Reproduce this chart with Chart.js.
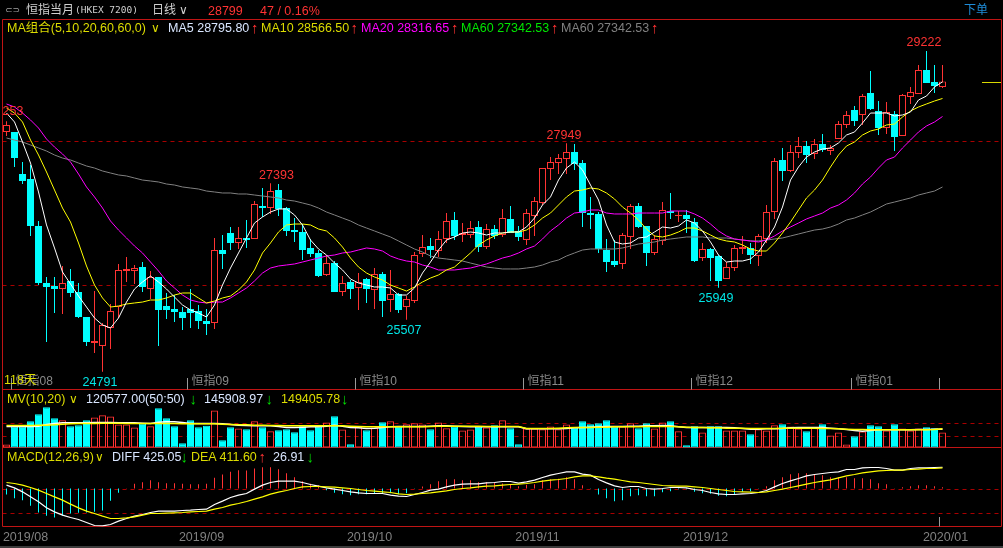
<!DOCTYPE html>
<html>
<head>
<meta charset="utf-8">
<title>恒指当月</title>
<script src="https://cdn.jsdelivr.net/npm/chart.js@4/dist/chart.umd.min.js"></script>
<style>
  html, body { margin: 0; padding: 0; background: #000; width: 1003px; height: 548px; overflow: hidden; }
  #kline { position: absolute; left: 0; top: 0; }
  #labels span { position: absolute; white-space: nowrap; line-height: 16px; font-family: "Liberation Sans", "Noto Sans CJK SC", sans-serif; font-size: 12.5px; }
  #footbar { position: absolute; left: 0; top: 546px; width: 1003px; height: 2px; background: #3c3c3c; }
</style>
</head>
<body>
<canvas id="kline" width="1003" height="548"></canvas>
<div id="labels"></div>
<div id="footbar"></div>
<script>
// 每日K线
const opens = [
  28103,28103,27522,27453,26804,26016,25975,25933,26044,25892,
  25546,25187,25146,25394,25684,26182,26182,26237,25933,26099,
  25698,25657,25615,25657,25629,25491,25463,26472,26707,26569,
  26638,26624,27080,27053,27301,27053,26748,26721,26500,26431,
  26127,26292,25892,26030,25947,26071,25919,26140,25781,25864,
  25684,25767,26417,26527,26458,26624,26887,26679,26679,26790,
  26514,26762,26679,26901,26735,26610,26942,27122,27591,27674,
  27730,27826,27674,26983,26970,26472,26320,26279,26652,27080,
  26804,26431,26597,27011,26942,26956,26859,26362,26486,26389,
  26071,26223,26486,26500,26389,26624,26997,27716,27564,27813,
  27909,27799,27937,27840,28006,28200,28407,28338,28642,28393,
  28158,28352,28048,28586,28628,28960,28794,28725
];
const closes = [
  28200,27743,27426,26804,26016,25961,25933,26016,25878,25546,
  25201,25215,25436,25629,26196,26210,26223,25961,26099,25643,
  25643,25615,25532,25601,25491,25449,26472,26417,26569,26638,
  26610,27108,27053,27287,27039,26735,26721,26472,26417,26112,
  26292,25892,26016,25933,26030,25933,26140,25767,25864,25643,
  25795,26403,26514,26472,26624,26873,26666,26707,26776,26514,
  26762,26666,26914,26707,26652,26983,27149,27605,27688,27743,
  27826,27660,26983,26956,26486,26306,26265,26679,27080,26790,
  26431,26624,27025,26983,26956,26901,26320,26486,26362,26044,
  26237,26500,26514,26403,26666,26997,27702,27564,27826,27909,
  27785,27937,27854,27882,28213,28338,28255,28600,28421,28158,
  28379,28034,28614,28656,28960,28780,28739,28799
];
const highs = [
  28253,28103,27688,27647,26873,26099,26099,26251,26210,26016,
  25546,25905,25463,25726,26279,26375,26265,26306,26182,26099,
  25878,25850,25684,25933,25712,25657,26638,26679,26790,26790,
  26887,27149,27329,27393,27385,27066,26914,26831,26624,26472,
  26403,26320,26112,26057,26154,26085,26223,26168,26196,25878,
  25836,26444,26679,26638,26735,26983,26997,26845,26873,26873,
  26831,26818,27039,27080,26804,27039,27205,27605,27757,27799,
  27949,27937,27716,27205,26997,26624,26610,26707,27108,27122,
  26804,26679,27136,27260,27011,27025,26914,26569,26500,26403,
  26306,26541,26666,26569,26693,27094,27743,27882,27923,28034,
  27978,28006,28075,27923,28255,28393,28462,28628,28946,28531,
  28517,28393,28628,28725,29029,29222,29029,29029
];
const lows = [
  28048,27619,27384,26666,25988,25201,25601,25587,25823,25532,
  25146,25049,24791,25104,25532,26030,26002,25892,25795,25146,
  25518,25477,25366,25394,25380,25297,25380,26210,26472,26486,
  26500,26624,26928,26970,26942,26666,26583,26334,26375,26099,
  26112,25892,25836,25795,25643,25740,25657,25546,25615,25601,
  25507,25740,26375,26361,26375,26569,26610,26583,26638,26444,
  26486,26624,26652,26707,26597,26541,26666,27094,27439,27522,
  27522,27578,26790,26762,26431,26168,26237,26210,26486,26776,
  26251,26403,26541,26901,26859,26707,26306,26320,26044,25949,
  26071,26182,26417,26279,26251,26569,26901,27426,27550,27743,
  27674,27730,27826,27785,28006,28158,28186,28200,28407,28061,
  28075,27840,28048,28490,28628,28780,28642,28711
];

// 均线
const ma5 = [
  28365,28241,27965,27674,27274,26818,26500,26168,26002,25836,
  25684,25532,25436,25394,25532,25753,25933,26030,26112,26030,
  25933,25822,25712,25643,25601,25546,25712,25988,26223,26431,
  26638,26845,26928,26997,27039,27039,26956,26818,26610,26486,
  26403,26292,26196,26071,26016,25988,25961,25961,25947,25850,
  25850,25947,26154,26306,26472,26610,26652,26707,26721,26707,
  26679,26707,26707,26721,26721,26790,26914,27094,27205,27439,
  27605,27688,27578,27370,27163,26818,26583,26555,26569,26638,
  26652,26721,26790,26776,26804,26887,26845,26735,26583,26403,
  26306,26320,26320,26348,26444,26610,26790,27066,27439,27619,
  27757,27826,27868,27882,27951,28061,28103,28227,28365,28365,
  28365,28324,28338,28379,28545,28600,28725,28796
];
const ma10 = [
  28434,28365,28241,27992,27785,27550,27301,27052,26859,26569,
  26251,25988,25809,25684,25698,25726,25740,25753,25781,25781,
  25809,25850,25878,25878,25809,25740,25767,25809,25836,25919,
  26030,26196,26431,26569,26721,26818,26831,26831,26818,26762,
  26735,26638,26513,26361,26237,26154,26099,26057,25988,25947,
  25905,25961,26030,26085,26127,26196,26237,26334,26431,26541,
  26610,26666,26707,26721,26721,26748,26818,26914,26983,27094,
  27205,27287,27301,27329,27315,27260,27177,27066,26983,26887,
  26762,26666,26652,26679,26721,26776,26776,26735,26679,26624,
  26597,26583,26541,26486,26458,26458,26569,26707,26859,27025,
  27191,27301,27439,27619,27785,27909,27965,28061,28117,28144,
  28200,28213,28310,28393,28448,28490,28531,28566
];
const ma20 = [
  28490,28448,28365,28269,28158,28006,27895,27799,27688,27522,
  27343,27205,27052,26873,26748,26638,26527,26431,26306,26182,
  26044,25947,25850,25781,25753,25740,25753,25753,25809,25878,
  25947,26044,26154,26223,26251,26265,26279,26306,26334,26361,
  26389,26403,26431,26444,26472,26500,26486,26458,26389,26348,
  26320,26306,26265,26237,26196,26196,26196,26210,26223,26251,
  26279,26320,26361,26389,26431,26486,26527,26624,26735,26818,
  26914,26983,26997,27025,27025,26983,26970,26970,26970,26983,
  26983,26983,26983,27011,27011,27011,26970,26914,26831,26735,
  26666,26624,26610,26597,26583,26610,26666,26735,26790,26845,
  26901,26942,26983,27052,27094,27163,27260,27384,27481,27605,
  27716,27757,27882,27992,28103,28186,28241,28317
];
const ma60 = [
  28020,27992,27965,27923,27882,27840,27785,27743,27716,27674,
  27633,27605,27564,27536,27509,27495,27467,27439,27426,27412,
  27384,27370,27343,27329,27315,27287,27274,27260,27260,27246,
  27246,27232,27218,27205,27191,27163,27149,27122,27094,27052,
  26997,26956,26914,26873,26818,26776,26735,26693,26652,26597,
  26541,26486,26444,26389,26361,26348,26334,26320,26292,26265,
  26237,26223,26210,26210,26210,26223,26237,26265,26306,26334,
  26389,26431,26472,26486,26486,26486,26486,26500,26527,26555,
  26569,26583,26610,26624,26638,26652,26652,26652,26638,26638,
  26638,26624,26610,26597,26597,26610,26624,26638,26666,26693,
  26721,26748,26762,26790,26831,26887,26914,26956,26997,27052,
  27108,27135,27163,27191,27232,27260,27287,27343
];

// 成交量
const volumes = [
  24000,168000,168000,210700,266700,322700,234700,218700,170700,178700,
  218700,240000,258700,248000,184000,184000,160000,192000,170700,314700,
  234700,170700,34700,218700,162700,173400,296000,58700,162700,152000,
  146700,210700,162700,130700,138700,146700,122700,170700,138700,168000,
  200000,250700,144000,26700,165400,138700,160000,202700,210700,170700,
  186700,194700,184000,146700,200000,154700,170700,136000,144000,168000,
  160000,178700,218700,154700,26700,152000,152000,146700,168000,146700,
  184000,160000,210700,186700,194700,218700,168000,168000,194700,154700,
  194700,152000,200000,210700,130700,18700,170700,120000,170700,170700,
  136000,136000,136000,106700,146700,136000,178700,186700,168000,152000,
  130700,160000,186700,96000,120000,24000,90700,128000,178700,170700,
  136000,186700,152000,136000,152000,162700,154700,120577
];
const mv10 = [
  168000,168000,168000,168000,170700,184000,192000,197350,197350,197350,
  197350,200000,200000,200000,197350,197350,197350,194700,192000,202700,
  205350,205350,200000,192000,192000,192000,192000,189350,184000,178700,
  176000,173350,173350,173350,168000,160000,160000,162700,165350,165350,
  170700,178700,170700,160000,157350,152000,154700,160000,165350,168000,
  168000,168000,168000,170700,173350,173350,170700,168000,165350,165350,
  165350,165350,165350,165350,165350,149350,149350,149350,149350,149350,
  152000,157350,160000,162700,165350,168000,168000,168000,170700,170700,
  173350,173350,176000,173350,165350,160000,160000,160000,160000,160000,
  160000,157350,152000,146700,146700,149350,149350,152000,157350,160000,
  160000,160000,160000,154700,149350,144000,136000,130700,136000,141350,
  141350,141350,141350,141350,144000,144000,146700,145909
];
const mv20 = [
  176000,176000,176000,176000,178700,178700,181350,186700,189350,192000,
  192000,192000,194700,194700,194700,192000,192000,192000,192000,192000,
  192000,192000,189350,189350,189350,189350,189350,186700,184000,181350,
  181350,178700,178700,176000,176000,173350,173350,173350,173350,173350,
  173350,173350,173350,170700,168000,165350,165350,165350,165350,165350,
  165350,165350,165350,168000,170700,170700,170700,170700,170700,170700,
  168000,168000,168000,168000,168000,152000,152000,152000,152000,154700,
  157350,160000,160000,160000,162700,162700,165350,165350,165350,165350,
  168000,168000,168000,168000,165350,162700,160000,160000,157350,157350,
  154700,154700,154700,152000,152000,152000,152000,154700,154700,154700,
  154700,154700,152000,152000,149350,146700,144000,144000,141350,141350,
  141350,141350,141350,141350,141350,141350,144000,149406
];

// MACD
const diff = [
  67,13,-67,-167,-267,-387,-467,-533,-580,-620,
  -680,-740,-747,-720,-653,-600,-553,-520,-480,-453,
  -453,-453,-440,-433,-420,-413,-320,-253,-180,-133,
  -100,-13,67,120,147,147,147,120,80,47,
  13,-13,-40,-67,-87,-100,-100,-100,-133,-153,
  -160,-120,-80,-33,-13,33,67,87,93,93,
  113,120,140,140,107,133,167,220,267,300,
  333,333,287,267,180,113,53,20,40,40,
  0,-13,0,20,20,13,-20,-40,-80,-107,
  -120,-120,-107,-100,-80,-40,33,100,153,200,
  253,280,300,320,333,380,380,413,420,420,
  400,367,367,400,413,413,420,425
];
const dea = [
  120,100,67,20,-33,-100,-167,-233,-313,-387,
  -453,-500,-553,-600,-600,-587,-567,-533,-500,-500,
  -493,-487,-480,-467,-460,-453,-413,-380,-333,-300,
  -260,-213,-167,-113,-73,-40,0,33,40,40,
  33,27,13,0,-20,-40,-53,-67,-80,-107,
  -120,-113,-100,-87,-67,-47,-20,0,13,33,
  47,53,67,80,87,100,120,147,167,180,
  200,233,253,253,233,207,187,160,133,120,
  100,80,60,53,47,47,33,20,0,-20,
  -40,-60,-67,-73,-80,-67,-40,-13,20,53,
  87,120,147,173,213,253,280,313,333,353,
  360,367,367,380,387,400,400,412
];
const macdBars = [
  -120,-193,-233,-347,-480,-547,-580,-547,-500,-487,
  -480,-467,-440,-247,-87,7,93,127,167,127,
  107,107,93,87,87,93,213,280,333,367,
  360,400,427,427,387,307,227,147,93,67,
  -33,-87,-113,-133,-113,-113,-107,-107,-93,-113,
  -93,-7,40,87,147,187,187,167,167,127,
  127,113,100,87,47,73,87,167,187,193,
  227,187,67,-3,-120,-193,-253,-233,-153,-133,
  -153,-153,-73,-53,-13,-13,-67,-93,-107,-147,
  -153,-127,-67,-53,-7,47,167,227,287,307,
  307,280,267,227,227,227,207,207,187,107,
  87,7,27,47,67,67,47,27
];

// 文字和刻度
const monthLabels = ['2019/08', '2019/09', '2019/10', '2019/11', '2019/12', '2020/01'];
const monthSlots = [1, 23, 44, 65, 86, 116];
const contractLabels = ['恒指08', '恒指09', '恒指10', '恒指11', '恒指12', '恒指01'];
const contractSlots = [1, 23, 44, 65, 86, 106];
const peakSlots = [0, 33, 70, 115, 50, 89, 12];
const peakTexts = ['28253', '27393', '27949', '29222', '25507', '25949', '24791'];
const priceGuides = [27985, 25995];
const volumeGuides = [200000, 96000];
const macdGuides = [0, -480];

const RED = '#ff3333', CYAN = '#00ffff', YELLOW = '#ffff00', WHITE = '#ffffff', GREY = '#808080', MAGENTA = '#ff00ff';
const SLOTS = 125;  // 右边留空
const PANEL_TOP = 19.5, MAIN_BOTTOM = 389.5, VOL_BOTTOM = 447.5, MACD_BOTTOM = 526.5;

const isUp = closes.map((c, i) => c >= opens[i]);
const candleColor = isUp.map(up => up ? RED : CYAN);

// 图上的红线、虚线、短刻度、高低点数字
const framePlugin = {
  id: 'frame',
  beforeDatasetsDraw(chart) {
    const ctx = chart.ctx, x = chart.scales.x, L = 2.5, R = 1001.5;
    ctx.save();
    ctx.lineWidth = 1;
    ctx.strokeStyle = '#a80000';
    ctx.setLineDash([4, 4]);
    const guide = (scale, list) => list.forEach(v => {
      const y = Math.round(scale.getPixelForValue(v)) + 0.5;
      ctx.beginPath(); ctx.moveTo(L, y); ctx.lineTo(R, y); ctx.stroke();
    });
    guide(chart.scales.y, priceGuides);
    guide(chart.scales.yVol, volumeGuides);
    guide(chart.scales.yMacd, macdGuides);
    ctx.setLineDash([]);

    ctx.strokeStyle = '#c01414';
    [PANEL_TOP, MAIN_BOTTOM, VOL_BOTTOM, MACD_BOTTOM].forEach(y => {
      ctx.beginPath(); ctx.moveTo(L, y); ctx.lineTo(R, y); ctx.stroke();
    });
    [L, R].forEach(px => {
      ctx.beginPath(); ctx.moveTo(px, PANEL_TOP); ctx.lineTo(px, MACD_BOTTOM); ctx.stroke();
    });

    // 合约分界
    ctx.strokeStyle = '#9a9a9a';
    ctx.fillStyle = '#8a8a8a';
    ctx.font = '12px "Liberation Sans", "Noto Sans CJK SC"';
    ctx.textAlign = 'left';
    ctx.textBaseline = 'middle';
    contractSlots.forEach((slot, i) => {
      const px = Math.round(x.getPixelForValue(slot) - 4) + 0.5;
      ctx.beginPath(); ctx.moveTo(px, 378); ctx.lineTo(px, MAIN_BOTTOM); ctx.stroke();
      ctx.fillText(contractLabels[i], px + 4, 382);
    });
    const last = Math.round(x.getPixelForValue(closes.length - 1) - 4) + 0.5;
    [[378, MAIN_BOTTOM], [517, MACD_BOTTOM]].forEach(seg => {
      ctx.beginPath(); ctx.moveTo(last, seg[0]); ctx.lineTo(last, seg[1]); ctx.stroke();
    });
    ctx.restore();
  },
  afterDatasetsDraw(chart) {
    const ctx = chart.ctx, x = chart.scales.x, y = chart.scales.y;
    ctx.save();
    // 现价短线
    const py = Math.round(y.getPixelForValue(closes[closes.length - 1])) + 0.5;
    ctx.strokeStyle = '#d8d800';
    ctx.beginPath(); ctx.moveTo(982, py); ctx.lineTo(1001, py); ctx.stroke();

    ctx.beginPath(); ctx.rect(2.5, 0, 998, 548); ctx.clip();
    ctx.font = '12.5px "Liberation Sans"';
    ctx.textAlign = 'center';
    ctx.textBaseline = 'middle';
    peakSlots.forEach((slot, i) => {
      const isLow = lows[slot] < 26000;
      const val = isLow ? lows[slot] : highs[slot];
      const shift = slot === 33 ? 6 : slot === 0 ? -0.5 : -2.5;
      const drop = isLow ? 10.5 : slot === 0 ? -9.5 : -8;
      ctx.fillStyle = isLow ? '#00e6e6' : RED;
      ctx.fillText(peakTexts[i], x.getPixelForValue(slot) + shift, y.getPixelForValue(val) + drop);
    });
    ctx.restore();
  }
};

const maLine = (data, color, axis, width) => ({
  type: 'line', data: data, yAxisID: axis, borderColor: color, borderWidth: width,
  pointRadius: 0, tension: 0, order: 1, fill: false
});
const barBase = { grouped: false, borderSkipped: false, inflateAmount: 0 };

new Chart(document.getElementById('kline').getContext('2d'), {
  type: 'bar',
  data: {
    labels: Array.from({ length: SLOTS }, (_, i) => i),
    datasets: [
      maLine(ma5, WHITE, 'y', 1),
      maLine(ma10, YELLOW, 'y', 1),
      maLine(ma20, MAGENTA, 'y', 1),
      maLine(ma60, GREY, 'y', 1),
      maLine(mv20, YELLOW, 'yVol', 1.5),
      maLine(mv10, WHITE, 'yVol', 1.5),
      maLine(dea, YELLOW, 'yMacd', 1.2),
      maLine(diff, WHITE, 'yMacd', 1.2),
      // 实体
      { ...barBase, data: opens.map((o, i) => [o, closes[i]]), yAxisID: 'y', order: 2, barThickness: 7, borderWidth: 1,
        backgroundColor: isUp.map(up => up ? '#000' : CYAN), borderColor: candleColor },
      // 影线
      { ...barBase, data: lows.map((l, i) => [l, highs[i]]), yAxisID: 'y', order: 3, barThickness: 1, borderWidth: 0,
        backgroundColor: candleColor },
      { ...barBase, data: volumes, yAxisID: 'yVol', order: 2, barThickness: 7, borderWidth: 1,
        backgroundColor: isUp.map(up => up ? 'transparent' : CYAN), borderColor: candleColor },
      { ...barBase, data: macdBars, yAxisID: 'yMacd', order: 2, barThickness: 1, borderWidth: 0,
        backgroundColor: macdBars.map(v => v >= 0 ? RED : CYAN) }
    ]
  },
  options: {
    responsive: false,
    animation: false,
    events: [],
    layout: { padding: { left: 2.5, right: 0.5, top: PANEL_TOP, bottom: 0 } },
    plugins: { legend: { display: false }, tooltip: { enabled: false } },
    scales: {
      x: {
        type: 'category',
        offset: true,
        grid: { display: false, drawTicks: false },
        border: { display: false },
        afterFit(axis) { axis.height = 548 - MACD_BOTTOM; },
        ticks: {
          autoSkip: false, maxRotation: 0, minRotation: 0, padding: 4, labelOffset: 11,
          color: '#808080', font: { family: '"Liberation Sans"', size: 12.5 },
          callback: (v, i) => { const m = monthSlots.indexOf(i); return m < 0 ? '' : monthLabels[m]; }
        }
      },
      // 三个副图共用一个绘图区，靠量程分开
      y: { display: false, min: 22651, max: 29657.5 },
      yVol: { display: false, min: -632000, max: 3424000 },
      yMacd: { display: false, min: -760, max: 9380 }
    }
  },
  plugins: [framePlugin]
});

// 表头文字
function put(text, left, cy, color, style) {
  const s = document.createElement('span');
  s.textContent = text;
  s.style.left = left + 'px';
  s.style.top = (cy - 8) + 'px';
  s.style.color = color;
  if (style) s.style.cssText += style;
  document.getElementById('labels').appendChild(s);
}
const TXT_WHITE = '#d9e6ff', TXT_YELLOW = '#dcdc00', UP = '#ff3333', DOWN = '#00dd00';
const chev = 'font-family:"DejaVu Sans";font-size:12px;';
const arrow = 'font-size:15px;';

put('⊂⊃', 5, 10, '#a0a0a0', 'font-family:"DejaVu Sans";font-size:9px;');
put('恒指当月', 26, 10, '#d0d0d0', 'font-size:12px;');
put('(HKEX 7200)', 75, 10, '#d0d0d0', 'font-family:"DejaVu Sans Mono";font-size:9.5px;');
put('日线', 152, 10, '#d0d0d0', 'font-size:12px;');
put('∨', 179, 10, '#d0d0d0', chev);
put('28799', 208, 11, UP);
put('47 / 0.16%', 260, 11, UP);
put('下单', 964, 10, '#1e8cd8', 'font-size:12px;');

put('MA组合(5,10,20,60,60,0)', 7, 28, TXT_YELLOW);
put('∨', 151, 28, TXT_YELLOW, chev);
put('MA5 28795.80', 168, 28, TXT_WHITE);
put('↑', 251, 28, UP, arrow);
put('MA10 28566.50', 261, 28, TXT_YELLOW);
put('↑', 350.5, 28, UP, arrow);
put('MA20 28316.65', 361, 28, '#ff00ff');
put('↑', 451, 28, UP, arrow);
put('MA60 27342.53', 461, 28, '#00e600');
put('↑', 551, 28, UP, arrow);
put('MA60 27342.53', 561, 28, GREY);
put('↑', 651, 28, UP, arrow);

put('118天', 4, 380, TXT_YELLOW);

put('MV(10,20)', 7, 399, TXT_YELLOW);
put('∨', 69, 399, TXT_YELLOW, chev);
put('120577.00(50:50)', 86, 399, TXT_WHITE);
put('↓', 189.5, 399, DOWN, arrow);
put('145908.97', 204, 399, TXT_WHITE);
put('↓', 265.5, 399, DOWN, arrow);
put('149405.78', 281, 399, TXT_YELLOW);
put('↓', 341, 399, DOWN, arrow);

put('MACD(12,26,9)', 7, 457, TXT_YELLOW);
put('∨', 95, 457, TXT_YELLOW, chev);
put('DIFF 425.05', 112, 457, TXT_WHITE);
put('↓', 180.5, 457, DOWN, arrow);
put('DEA 411.60', 191, 457, TXT_YELLOW);
put('↑', 258.5, 457, UP, arrow);
put('26.91', 273, 457, TXT_WHITE);
put('↓', 306.5, 457, DOWN, arrow);
</script>
</body>
</html>
